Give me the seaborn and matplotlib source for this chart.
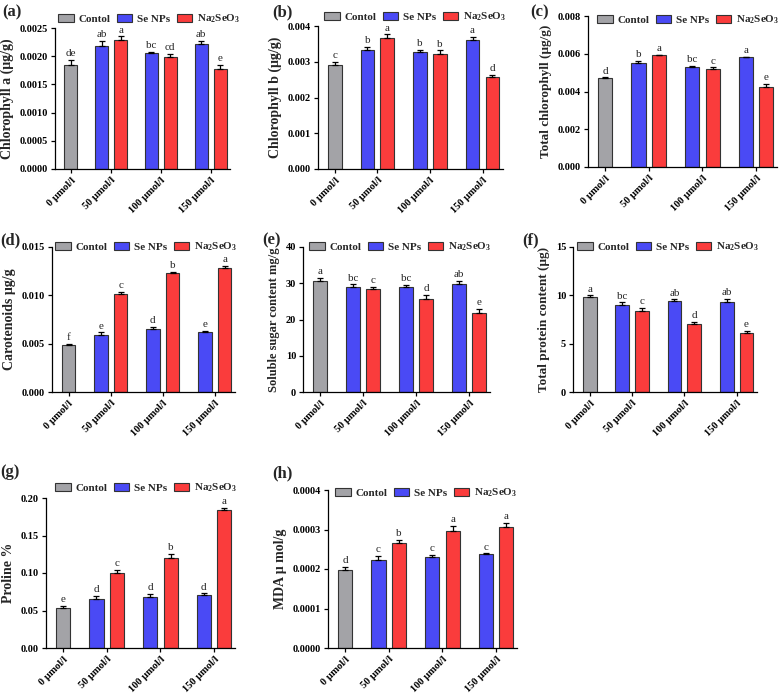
import numpy as np
import pandas as pd
import matplotlib
matplotlib.use('Agg')
import matplotlib.pyplot as plt
import seaborn as sns

# Style: Prism-like, Times-like bold serif text
sns.set_style('ticks')
plt.rcParams['font.family'] = ['Liberation Serif', 'DejaVu Serif']
plt.rcParams['mathtext.fontset'] = 'custom'
plt.rcParams['mathtext.rm'] = 'Liberation Serif'
plt.rcParams['mathtext.bf'] = 'Liberation Serif:bold'

# Categories
doses = ['0 μmol/l', '50 μmol/l', '100 μmol/l', '150 μmol/l']
treatments = ['Contol', 'Se NPs', r'$\mathbf{Na_2SeO_3}$']
colors = ['#A3A3A7', '#4A4AF5', '#FA3C3C']

# Bar order: Control@0, then Se NPs / Na2SeO3 at 50, 100, 150
bar_dose = [0, 1, 1, 2, 2, 3, 3]
bar_treat = [0, 1, 2, 1, 2, 1, 2]

# (a) Chlorophyll a
chla_mean = [0.00185, 0.00218, 0.00228, 0.00205, 0.00198, 0.00221, 0.00178]
chla_err = [0.00008, 0.00009, 0.00007, 0.00003, 0.000065, 0.00006, 0.000065]
chla_letters = ['de', 'ab', 'a', 'bc', 'cd', 'ab', 'e']

# (b) Chlorophyll b
chlb_mean = [0.00291, 0.00334, 0.00367, 0.00327, 0.00323, 0.00360, 0.00258]
chlb_err = [0.00009, 0.00007, 0.0001, 0.00007, 0.00009, 0.0001, 0.00005]
chlb_letters = ['c', 'b', 'a', 'b', 'b', 'a', 'd']

# (c) Total chlorophyll
tchl_mean = [0.00470, 0.00549, 0.00593, 0.00532, 0.00518, 0.00581, 0.00426]
tchl_err = [0.00005, 0.00012, 0.00003, 0.00003, 0.0001, 0.00003, 0.00014]
tchl_letters = ['d', 'b', 'a', 'bc', 'c', 'a', 'e']

# (d) Carotenoids
car_mean = [0.00483, 0.00593, 0.01014, 0.00655, 0.01228, 0.00624, 0.01283]
car_err = [0.00012, 0.00024, 0.00024, 0.00017, 0.00017, 0.0001, 0.0002]
car_letters = ['f', 'e', 'c', 'd', 'b', 'e', 'a']

# (e) Soluble sugar
sug_mean = [30.6, 28.9, 28.4, 28.9, 25.7, 29.9, 21.9]
sug_err = [0.9, 0.8, 0.55, 0.65, 1.0, 0.75, 1.0]
sug_letters = ['a', 'bc', 'c', 'bc', 'd', 'ab', 'e']

# (f) Total protein
prot_mean = [9.83, 9.03, 8.33, 9.40, 7.08, 9.30, 6.08]
prot_err = [0.17, 0.24, 0.35, 0.17, 0.2, 0.35, 0.24]
prot_letters = ['a', 'bc', 'c', 'ab', 'd', 'ab', 'e']

# (g) Proline
pro_mean = [0.0536, 0.065, 0.100, 0.0686, 0.1206, 0.0709, 0.1843]
pro_err = [0.0022, 0.0045, 0.0045, 0.003, 0.005, 0.002, 0.003]
pro_letters = ['e', 'd', 'c', 'd', 'b', 'd', 'a']

# (h) MDA
mda_mean = [0.000197, 0.000224, 0.000266, 0.000230, 0.000297, 0.000237, 0.000307]
mda_err = [0.0000085, 0.0000085, 0.0000085, 0.000005, 0.000012, 0.0000025, 0.0000085]
mda_letters = ['d', 'c', 'b', 'c', 'a', 'c', 'a']

# Panel specs: tag, data, ylabel, label size, yticks, tick format,
# axes rect (px), legend centre (px), tag position (px)
panels = [
    ('(a)', chla_mean, chla_err, chla_letters, 'Chlorophyll a (μg/g)', 10,
     np.arange(0, 0.00251, 0.0005), '{:.4f}', (55, 28, 230, 169), (149, 19), (2, 12)),
    ('(b)', chlb_mean, chlb_err, chlb_letters, 'Chlorophyll b (μg/g)', 10,
     np.arange(0, 0.00401, 0.001), '{:.3f}', (318, 26, 503, 169), (415, 17), (272, 12)),
    ('(c)', tchl_mean, tchl_err, tchl_letters, 'Total chlorophyll (μg/g)', 9.5,
     np.arange(0, 0.00801, 0.002), '{:.3f}', (588, 16, 777, 167), (688, 20), (530, 12)),
    ('(d)', car_mean, car_err, car_letters, 'Carotenoids μg/g', 10,
     np.arange(0, 0.01501, 0.005), '{:.3f}', (52, 247, 235, 392), (146, 247), (0, 240)),
    ('(e)', sug_mean, sug_err, sug_letters, 'Soluble sugar content mg/g', 9,
     np.arange(0, 41, 10), '{:.0f}', (303, 247, 490, 392), (400, 247), (262, 240)),
    ('(f)', prot_mean, prot_err, prot_letters, 'Total protein content (μg)', 9.5,
     np.arange(0, 16, 5), '{:.0f}', (573, 247, 757, 392), (668, 247), (522, 240)),
    ('(g)', pro_mean, pro_err, pro_letters, 'Proline %', 10,
     np.arange(0, 0.201, 0.05), '{:.2f}', (46, 498, 235, 648), (146, 488), (0, 472)),
    ('(h)', mda_mean, mda_err, mda_letters, 'MDA μ mol/g', 10,
     np.arange(0, 0.000401, 0.0001), '{:.4f}', (328, 490, 517, 648), (426, 493), (272, 473)),
]

W, H = 784, 700
fig = plt.figure(figsize=(W / 100, H / 100), dpi=100)

# group centres on the x axis and bar offsets inside a group
dose_centre = [0.0, 0.81, 1.81, 2.81]
offsets = [0.0, -0.19, 0.19]

for tag, mean, err, letters, ylabel, ysize, yticks, fmt, rect, legc, tagpos in panels:
    x0, y0, x1, y1 = rect
    ax = fig.add_axes([x0 / W, 1 - y1 / H, (x1 - x0) / W, (y1 - y0) / H])

    df = pd.DataFrame({
        'pos': [dose_centre[d] + offsets[t] for d, t in zip(bar_dose, bar_treat)],
        'mean': mean,
        'err': err,
        'treatment': [treatments[t] for t in bar_treat],
    })

    sns.barplot(data=df, x='pos', y='mean', hue='treatment', hue_order=treatments,
                palette=colors, saturation=1, native_scale=True, width=0.69,
                errorbar=None, edgecolor='#333333', linewidth=0.8, ax=ax)

    ax.errorbar(df['pos'], df['mean'], yerr=[np.zeros(len(df)), df['err']],
                fmt='none', ecolor='black', elinewidth=0.9, capsize=2.5,
                capthick=0.9, zorder=3)

    ymax = yticks[-1]
    for p, m, e, lab in zip(df['pos'], df['mean'], df['err'], letters):
        ax.text(p, m + e + ymax * 0.012, lab, ha='center', va='bottom', fontsize=8)

    ax.set_ylim(0, ymax)
    ax.set_yticks(yticks)
    ax.set_yticklabels([fmt.format(v) for v in yticks], fontsize=7.5, fontweight='bold')
    ax.set_xlim(-0.32, 3.2)
    ax.set_xticks(dose_centre)
    ax.set_xticklabels(doses, rotation=45, ha='right', rotation_mode='anchor',
                       fontsize=7.5, fontweight='bold')
    ax.set_xlabel('')
    ax.set_ylabel(ylabel, fontsize=ysize, fontweight='bold')
    sns.despine(ax=ax)
    for s in ['left', 'bottom']:
        ax.spines[s].set_linewidth(0.9)
        ax.spines[s].set_color('black')
    ax.tick_params(direction='out', length=3, width=0.9, colors='black', pad=2)

    # legend
    leg = ax.get_legend()
    handles = leg.legend_handles
    labels = [t.get_text() for t in leg.get_texts()]
    leg.remove()
    ax.legend(handles, labels, loc='center', ncol=3, frameon=False,
              bbox_to_anchor=(legc[0] / W, 1 - legc[1] / H),
              bbox_transform=fig.transFigure,
              prop={'weight': 'bold', 'size': 8}, handlelength=1.4,
              handleheight=0.8, handletextpad=0.4, columnspacing=0.6,
              borderaxespad=0, borderpad=0)

    fig.text(tagpos[0] / W, 1 - tagpos[1] / H, tag, fontsize=12, fontweight='bold',
             ha='left', va='center')

fig.savefig('out.png', dpi=100)
